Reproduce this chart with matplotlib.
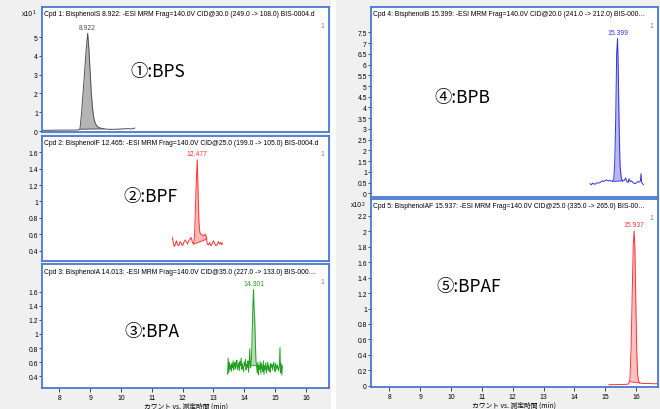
import numpy as np
import matplotlib.pyplot as plt
from matplotlib.ticker import FuncFormatter
from matplotlib.patches import Rectangle

W, H = 660, 410

# ---- data ----
bps_t = [7.45, 7.7, 8.0, 8.3, 8.5, 8.62, 8.67, 8.72, 8.77, 8.82, 8.87, 8.922, 8.96, 9.00, 9.04,
         9.08, 9.12, 9.17, 9.23, 9.30, 9.40, 9.55, 9.7, 9.9, 10.1, 10.25, 10.35, 10.45]
bps_y = [0.04, 0.04, 0.05, 0.05, 0.05, 0.06, 0.1, 0.9, 2.0, 3.1, 4.3, 5.2, 4.4, 3.2, 2.0,
         1.2, 0.7, 0.4, 0.25, 0.18, 0.13, 0.1, 0.09, 0.1, 0.12, 0.13, 0.11, 0.16]

bpf_t = [11.67, 11.70, 11.73, 11.77, 11.80, 11.84, 11.88, 11.92, 11.96, 12.00, 12.04, 12.08,
         12.12, 12.16, 12.20, 12.24, 12.28, 12.32, 12.36, 12.39, 12.42, 12.45, 12.477, 12.50,
         12.53, 12.56, 12.60, 12.64, 12.68, 12.73, 12.77, 12.80, 12.84, 12.88, 12.92, 12.96,
         13.00, 13.04, 13.08, 13.12, 13.16, 13.20, 13.24, 13.27, 13.29]
bpf_y = [0.56, 0.50, 0.45, 0.48, 0.52, 0.47, 0.46, 0.51, 0.49, 0.46, 0.50, 0.53,
         0.51, 0.48, 0.52, 0.54, 0.56, 0.50, 0.48, 0.60, 0.95, 1.30, 1.51, 1.15,
         0.75, 0.62, 0.60, 0.59, 0.58, 0.60, 0.57, 0.48, 0.47, 0.50, 0.46, 0.48,
         0.52, 0.49, 0.46, 0.47, 0.51, 0.48, 0.50, 0.47, 0.49]

bpa_t = [13.46, 13.48, 13.50, 13.52, 13.54, 13.56, 13.58, 13.60, 13.62, 13.64, 13.66, 13.68,
         13.70, 13.72, 13.74, 13.76, 13.78, 13.80, 13.82, 13.84, 13.86, 13.88, 13.90, 13.92,
         13.94, 13.96, 13.98, 14.00, 14.02, 14.04, 14.06, 14.08, 14.10, 14.12, 14.14, 14.16,
         14.18, 14.20, 14.22, 14.24, 14.26, 14.28, 14.301, 14.32, 14.34, 14.36, 14.38, 14.40,
         14.42, 14.44, 14.46, 14.48, 14.50, 14.52, 14.54, 14.56, 14.58, 14.60, 14.62, 14.64,
         14.66, 14.68, 14.70, 14.72, 14.74, 14.76, 14.78, 14.80, 14.82, 14.84, 14.86, 14.88,
         14.90, 14.92, 14.94, 14.96, 14.98, 15.00, 15.02, 15.04, 15.06, 15.08, 15.10, 15.12,
         15.14, 15.16, 15.18, 15.20, 15.22, 15.24]
bpa_y = [0.43, 0.66, 0.45, 0.60, 0.50, 0.56, 0.47, 0.58, 0.52, 0.62, 0.49, 0.55,
         0.60, 0.51, 0.57, 0.63, 0.50, 0.54, 0.59, 0.48, 0.61, 0.55, 0.66, 0.50,
         0.58, 0.52, 0.47, 0.60, 0.55, 0.64, 0.49, 0.57, 0.53, 0.62, 0.46, 0.58,
         0.79, 0.52, 0.56, 0.70, 1.05, 1.40, 1.63, 1.35, 1.22, 0.90, 0.62, 0.55,
         0.45, 0.60, 0.42, 0.56, 0.50, 0.61, 0.44, 0.58, 0.53, 0.47, 0.62, 0.43,
         0.55, 0.50, 0.59, 0.45, 0.52, 0.60, 0.48, 0.56, 0.51, 0.46, 0.58, 0.53,
         0.57, 0.49, 0.55, 0.60, 0.52, 0.47, 0.58, 0.54, 0.50, 0.56, 0.52, 0.48,
         0.55, 0.81, 0.45, 0.58, 0.42, 0.55]

bpb_t = [14.51, 14.55, 14.60, 14.65, 14.70, 14.75, 14.80, 14.85, 14.90, 14.95, 15.00, 15.05,
         15.10, 15.15, 15.20, 15.24, 15.28, 15.31, 15.34, 15.37, 15.399, 15.42, 15.45, 15.48,
         15.52, 15.57, 15.62, 15.66, 15.70, 15.74, 15.77, 15.81, 15.85, 15.90, 15.95, 16.00,
         16.05, 16.10, 16.14, 16.16, 16.18, 16.21, 16.24]
bpb_y = [0.45, 0.40, 0.48, 0.42, 0.45, 0.50, 0.48, 0.52, 0.58, 0.55, 0.60, 0.62,
         0.58, 0.60, 0.57, 0.56, 0.70, 1.50, 3.50, 6.50, 7.22, 6.00, 3.20, 1.30,
         0.70, 0.58, 0.60, 0.72, 0.55, 0.50, 0.68, 0.55, 0.58, 0.50, 0.45, 0.48,
         0.55, 0.52, 0.58, 0.92, 0.50, 0.45, 0.40]

bpaf_t = [15.12, 15.20, 15.30, 15.40, 15.50, 15.60, 15.70, 15.76, 15.80, 15.84, 15.88, 15.91,
          15.937, 15.96, 15.99, 16.02, 16.05, 16.08, 16.12, 16.20, 16.30, 16.40, 16.50, 16.60,
          16.71]
bpaf_y = [0.012, 0.014, 0.013, 0.015, 0.014, 0.016, 0.018, 0.025, 0.08, 0.50, 1.30, 1.85,
          2.005, 1.80, 1.10, 0.45, 0.15, 0.06, 0.035, 0.030, 0.028, 0.030, 0.027, 0.025,
          0.026]

titles = [
    "Cpd 1: BisphenolS 8.922: -ESI MRM Frag=140.0V CID@30.0 (249.0 -> 108.0) BIS-0004.d",
    "Cpd 2: BisphenolF 12.465: -ESI MRM Frag=140.0V CID@25.0 (199.0 -> 105.0) BIS-0004.d",
    "Cpd 3: BisphenolA 14.013: -ESI MRM Frag=140.0V CID@35.0 (227.0 -> 133.0) BIS-000\u2026",
    "Cpd 4: BisphenolB 15.399: -ESI MRM Frag=140.0V CID@20.0 (241.0 -> 212.0) BIS-000\u2026",
    "Cpd 5: BisphenolAF 15.937: -ESI MRM Frag=140.0V CID@25.0 (335.0 -> 265.0) BIS-00\u2026",
]
names = ["\u2460:BPS", "\u2461:BPF", "\u2462:BPA", "\u2463:BPB", "\u2464:BPAF"]
peak_rt = ["8.922", "12.477", "14.301", "15.399", "15.937"]
xlabel = "カウント vs. 測定時間 (min)"

# panel layout in pixels (left, top, right, bottom)
panels = [
    dict(box=(42, 8, 329, 133), t=bps_t, y=bps_y, ylim=(-0.05, 6.6), yt=[0, 1, 2, 3, 4, 5],
         lc="#505050", fc="#b4b4b4", fill=(8.67, 9.45), mult="1", lab=(130, 72), one=27),
    dict(box=(42, 137, 329, 262), t=bpf_t, y=bpf_y, ylim=(0.273, 1.80),
         yt=[0.4, 0.6, 0.8, 1, 1.2, 1.4, 1.6],
         lc="#ff3333", fc="#ffb8b8", fill=(12.36, 12.78), mult=None, lab=(123, 197), one=155),
    dict(box=(42, 265, 329, 389), t=bpa_t, y=bpa_y, ylim=(0.236, 1.99),
         yt=[0.4, 0.6, 0.8, 1, 1.2, 1.4, 1.6],
         lc="#22a022", fc="#b8dcb8", fill=(14.22, 14.40), mult=None, lab=(124, 332), one=283),
    dict(box=(371, 8, 658, 198), t=bpb_t, y=bpb_y, ylim=(-0.17, 8.68),
         yt=[0, 0.5, 1, 1.5, 2, 2.5, 3, 3.5, 4, 4.5, 5, 5.5, 6, 6.5, 7, 7.5],
         lc="#3333dd", fc="#b8b8f0", fill=(15.24, 15.57), mult=None, lab=(434, 98), one=27),
    dict(box=(371, 200, 658, 388), t=bpaf_t, y=bpaf_y, ylim=(-0.017, 2.42),
         yt=[0, 0.2, 0.4, 0.6, 0.8, 1, 1.2, 1.4, 1.6, 1.8, 2, 2.2],
         lc="#ff3333", fc="#ffc0c0", fill=(15.78, 16.12), mult="2", lab=(436, 287), one=219),
]

border = "#4a78d0"
fs = 4.9

fig = plt.figure(figsize=(W / 100, H / 100), dpi=100, facecolor="#f0f0f0")
fig.patches.append(Rectangle((331 / W, 0), 5 / W, 1, transform=fig.transFigure,
                             facecolor="white", edgecolor="none", zorder=0))

for i, p in enumerate(panels):
    x0, y0, x1, y1 = p["box"]
    ax = fig.add_axes([x0 / W, 1 - y1 / H, (x1 - x0) / W, (y1 - y0) / H])
    ax.set_facecolor("white")
    if x0 < 300:
        ax.set_xlim(7.44, 16.75)
    else:
        ax.set_xlim(7.41, 16.71)
    ax.set_ylim(*p["ylim"])

    t = np.array(p["t"])
    y = np.array(p["y"])
    ax.plot(t, y, color=p["lc"], lw=0.7)

    # integration area
    a, b = p["fill"]
    m = (t >= a) & (t <= b)
    ya, yb = np.interp(a, t, y), np.interp(b, t, y)
    tt = np.concatenate([[a], t[m], [b]])
    yy = np.concatenate([[ya], y[m], [yb]])
    base = np.interp(tt, [a, b], [ya, yb])
    ax.fill_between(tt, yy, base, color=p["fc"], lw=0)
    ax.plot([a, b], [ya, yb], color=p["lc"], lw=0.6)

    # peak label
    k = int(np.argmax(y))
    ax.annotate(peak_rt[i], (t[k], y[k]), xytext=(0, 2), textcoords="offset points",
                ha="center", va="bottom", fontsize=fs, color=p["lc"], family="Liberation Sans")

    for s in ax.spines.values():
        s.set_color(border)
        s.set_linewidth(1.3)

    ax.set_yticks(p["yt"])
    ax.yaxis.set_major_formatter(FuncFormatter(lambda v, pos: "%g" % v))
    ax.tick_params(axis="y", direction="out", length=2, width=0.5, pad=1, labelsize=fs,
                   color="black")
    if i in (2, 4):
        ax.set_xticks(range(8, 17))
        ax.tick_params(axis="x", direction="out", length=3, width=0.5, pad=1.5, labelsize=fs)
        ax.set_xlabel(xlabel, fontsize=fs, family=["Noto Sans CJK JP", "DejaVu Sans"],
                      labelpad=0.5)
    else:
        ax.set_xticks([])
    for lbl in ax.get_xticklabels() + ax.get_yticklabels():
        lbl.set_family("Liberation Sans")

    # header text
    fig.text((x0 + 2) / W, 1 - (y0 + 7) / H, titles[i], fontsize=fs, va="center", ha="left",
             family="Liberation Sans")
    fig.text((x1 - 5) / W, 1 - p["one"] / H, "1", fontsize=fs, va="center", ha="right",
             color="#808080", family="Liberation Sans")
    if p["mult"]:
        fig.text((x0 - 20) / W, 1 - (y0 + 6) / H, "x10", fontsize=fs, va="center", ha="left",
                 family="Liberation Sans")
        fig.text((x0 - 9) / W, 1 - (y0 + 5) / H, p["mult"], fontsize=3.6, va="center",
                 ha="left", family="Liberation Sans")

    lx, ly = p["lab"]
    fig.text(lx / W, 1 - ly / H, names[i], fontsize=12.5, va="center", ha="left",
             family=["Noto Sans CJK JP", "DejaVu Sans"])

fig.savefig("out.png", dpi=100, facecolor=fig.get_facecolor())
